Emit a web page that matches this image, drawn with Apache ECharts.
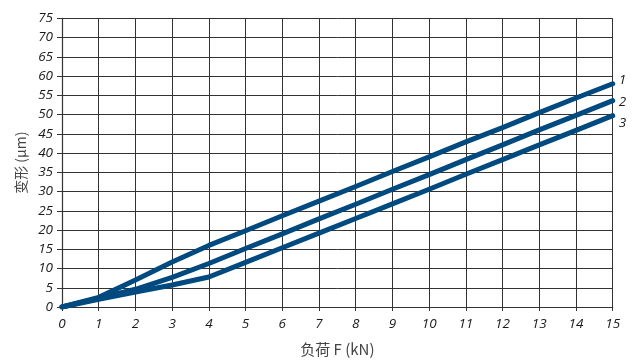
<!DOCTYPE html>
<html><head><meta charset="utf-8">
<script src="https://cdn.jsdelivr.net/npm/echarts@6/dist/echarts.min.js"></script>
<style>html,body{margin:0;padding:0;background:#fff}#c{width:633px;height:362px}</style>
</head><body><div id="c"></div>
<script>
const loads = [0,1,2,3,4,5,6,7,8,9,10,11,12,13,14,15];
const curve1 = [0,2.5,7.0,11.7,16.0,19.8,23.7,27.5,31.3,35.2,39.0,42.9,46.6,50.5,54.3,58.0];
const curve2 = [0,2.3,4.6,7.7,11.3,15.2,19.0,22.9,26.7,30.6,34.4,38.3,42.1,46.0,49.8,53.6];
const curve3 = [0,2.0,3.9,5.7,7.8,11.6,15.4,19.2,23.0,26.8,30.6,34.5,38.3,42.1,45.9,49.7];
const curveNames = ['1','2','3'];
const xName = '负荷 F (kN)';
const yName = '变形 (μm)';

const chart = echarts.init(document.getElementById('c'));
const lineColor = '#004a80';
const gridColor = '#333';
const labelFont = {fontFamily:'Open Sans', fontStyle:'italic', fontSize:13.5, color:'#1a1a1a'};
const offsets = [[0,-4],[0,1],[0,7]];
const series = [curve1,curve2,curve3].map((c,i)=>({
  type:'line', name:curveNames[i],
  data: loads.map((x,j)=>[x,c[j]]),
  showSymbol:false, symbol:'none',
  lineStyle:{color:lineColor,width:5,join:'round',cap:'round'},
  itemStyle:{color:lineColor},
  endLabel:{show:true, formatter:curveNames[i], distance:6, offset:offsets[i], ...labelFont},
  z: 3
}));
chart.setOption({
  animation:false,
  grid:{left:62,right:20.3,top:18.3,bottom:53.7,containLabel:false},
  xAxis:{type:'value',min:0,max:15,interval:1,
    name:xName,nameLocation:'middle',nameGap:35,
    nameTextStyle:{fontFamily:'Noto Sans CJK SC',fontSize:15,color:'#444'},
    axisLine:{show:true,onZero:false,lineStyle:{color:gridColor,width:1.2}},
    axisTick:{show:true,length:4,lineStyle:{color:gridColor}},
    axisLabel:{...labelFont,margin:10},
    splitLine:{show:true,lineStyle:{color:gridColor,width:1}}},
  yAxis:{type:'value',min:0,max:75,interval:5,
    name:yName,nameLocation:'middle',nameGap:34,nameRotate:90,
    nameTextStyle:{fontFamily:'Noto Sans CJK SC',fontSize:14,color:'#444'},
    axisLine:{show:true,lineStyle:{color:gridColor,width:1.2}},
    axisTick:{show:true,length:5,lineStyle:{color:gridColor}},
    axisLabel:{...labelFont,margin:9},
    splitLine:{show:true,lineStyle:{color:gridColor,width:1}}},
  series
});
</script></body></html>
